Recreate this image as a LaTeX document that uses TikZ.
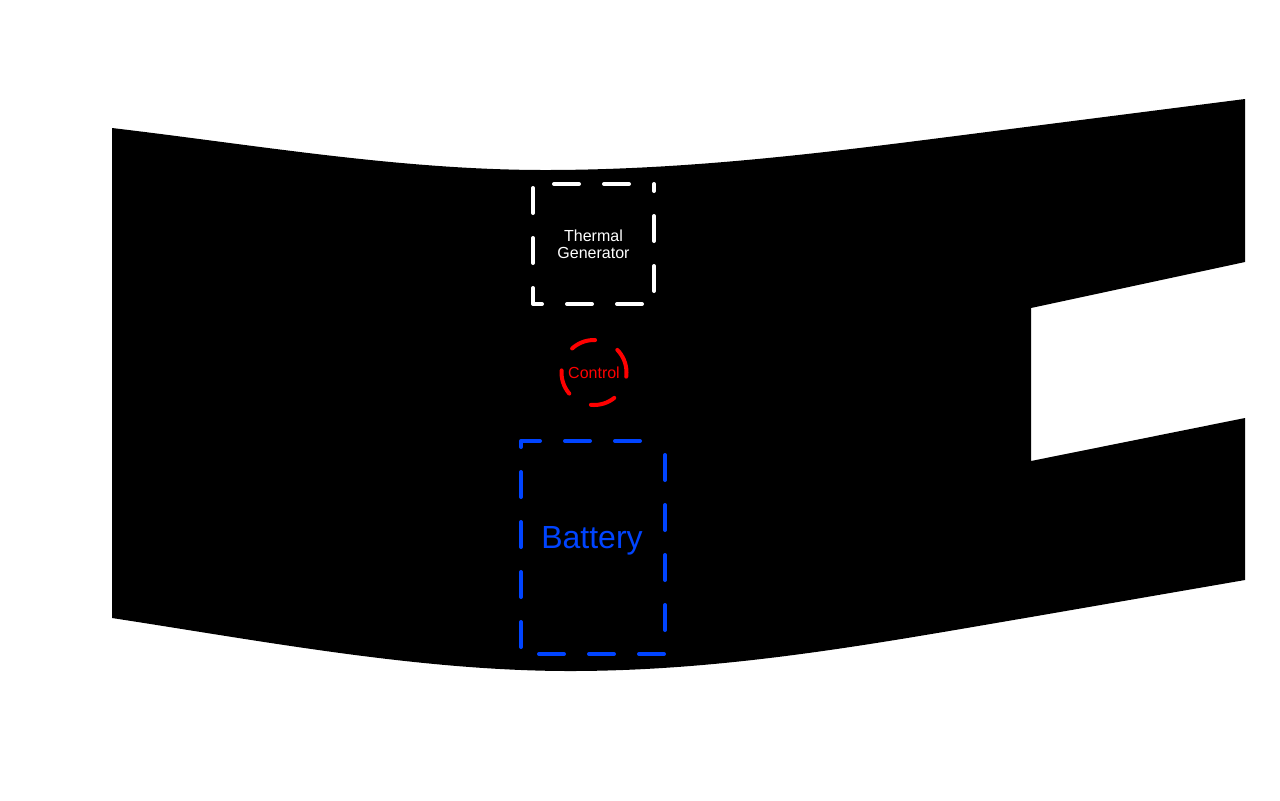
\documentclass[tikz,border=0pt]{standalone}
\usepackage{fontspec}
\setmainfont{Liberation Sans}
\definecolor{battblue}{RGB}{0,68,255}
\begin{document}
\begin{tikzpicture}[x=0.5pt,y=-0.5pt,
  dashedge/.style={line width=2pt, line cap=round, dash pattern=on 12.5pt off 12.5pt},
  boxedge/.style={dashedge, dash phase=12.5pt, line join=round},
  area/.style={rectangle, inner sep=0pt, outer sep=0pt},
  smalltext/.style={font=\fontsize{8}{8.5}\selectfont, align=center}]
\fill[white] (0,0) rectangle (1280,800);
\useasboundingbox (0,0) rectangle (1280,800);
% black body
\fill[black] (112,128) .. controls (256,145) and (400,170) .. (545,170)
  .. controls (680,170) and (810,154.6) .. (940,138) -- (1245,99) -- (1245,262)
  -- (1031,308) -- (1031,461) -- (1245,418) -- (1245,580) -- (1031,617)
  .. controls (881,642.5) and (730,671) .. (570,671)
  .. controls (420,671) and (262,641) .. (112,618) -- cycle;
% thermal generator
\node[area, smalltext, text=white, minimum width=60.5pt, minimum height=60pt] (tg) at (593.5,244) {Thermal\\Generator};
\draw[boxedge, white] (tg.north east) -- (tg.north west) -- (tg.south west) -- (tg.south east) -- cycle;
% control
\node[circle, draw=red, dashedge, minimum size=32.5pt, inner sep=0pt, text=red, font=\fontsize{8}{8.5}\selectfont] (ctl) at (594,372.5) {Control};
% battery
\node[area, minimum width=72pt, minimum height=106.5pt] (bat) at (593,547.5) {};
\draw[boxedge, battblue] (bat.north east) -- (bat.north west) -- (bat.south west) -- (bat.south east) -- cycle;
\node[anchor=base, text=battblue, font=\fontsize{16}{18}\selectfont, inner sep=0pt] (battxt) at (592,548) {Battery};
\end{tikzpicture}
\end{document}
